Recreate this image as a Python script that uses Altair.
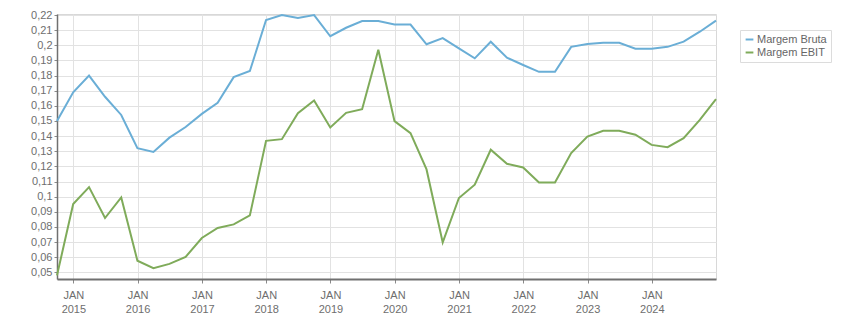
import altair as alt
import pandas as pd

dates = [
    "2014-09-30", "2014-12-31", "2015-03-31", "2015-06-30", "2015-09-30", "2015-12-31",
    "2016-03-31", "2016-06-30", "2016-09-30", "2016-12-31", "2017-03-31", "2017-06-30",
    "2017-09-30", "2017-12-31", "2018-03-31", "2018-06-30", "2018-09-30", "2018-12-31",
    "2019-03-31", "2019-06-30", "2019-09-30", "2019-12-31", "2020-03-31", "2020-06-30",
    "2020-09-30", "2020-12-31", "2021-03-31", "2021-06-30", "2021-09-30", "2021-12-31",
    "2022-03-31", "2022-06-30", "2022-09-30", "2022-12-31", "2023-03-31", "2023-06-30",
    "2023-09-30", "2023-12-31", "2024-03-31", "2024-06-30", "2024-09-30", "2024-12-31",
]

margem_bruta = [
    0.150, 0.169, 0.180, 0.166, 0.154, 0.132, 0.1296, 0.139, 0.146, 0.1547, 0.162, 0.179,
    0.183, 0.2167, 0.220, 0.218, 0.220, 0.206, 0.2116, 0.216, 0.216, 0.2138, 0.2137, 0.2007,
    0.2048, 0.198, 0.1914, 0.2024, 0.1918, 0.187, 0.1825, 0.1825, 0.199, 0.2009, 0.2017, 0.2017,
    0.1978, 0.1978, 0.199, 0.2024, 0.209, 0.2163,
]

margem_ebit = [
    0.048, 0.0951, 0.1063, 0.0859, 0.0995, 0.0577, 0.0527, 0.0556, 0.0602, 0.0727, 0.0793, 0.0817,
    0.0876, 0.1369, 0.138, 0.1551, 0.1635, 0.1457, 0.1554, 0.1578, 0.1971, 0.1499, 0.142, 0.118,
    0.0698, 0.0991, 0.1079, 0.1310, 0.1217, 0.1193, 0.1094, 0.1094, 0.1288, 0.1397, 0.1435, 0.1435,
    0.1409, 0.1342, 0.1327, 0.1387, 0.1507, 0.1644,
]

series_names = ["Margem Bruta", "Margem EBIT"]
series_colors = ["#6aaed6", "#7fab5a"]
y_ticks = [0.05, 0.06, 0.07, 0.08, 0.09, 0.10, 0.11, 0.12, 0.13, 0.14, 0.15, 0.16, 0.17,
           0.18, 0.19, 0.20, 0.21, 0.22]
x_tick_years = [2015, 2016, 2017, 2018, 2019, 2020, 2021, 2022, 2023, 2024]

df = pd.concat([
    pd.DataFrame({"date": dates, "value": margem_bruta, "serie": series_names[0]}),
    pd.DataFrame({"date": dates, "value": margem_ebit, "serie": series_names[1]}),
])

FONT = "Liberation Sans"

chart = alt.Chart(df).mark_line(strokeWidth=2).encode(
    x=alt.X(
        "date:T",
        scale=alt.Scale(type="utc", domain=[
            alt.DateTime(year=2014, month=9, date=30, utc=True),
            alt.DateTime(year=2024, month=12, date=31, utc=True),
        ], nice=False),
        axis=alt.Axis(
            title=None,
            values=[alt.DateTime(year=y, month=1, date=1, utc=True) for y in x_tick_years],
            labelExpr="['JAN', utcFormat(datum.value, '%Y')]",
            labelFont=FONT, labelFontSize=11, labelColor="#6e6e6e",
            labelPadding=6, labelLineHeight=14,
            domainColor="#707070", domainWidth=2,
            tickColor="#8a8a8a", tickSize=4,
            gridColor="#e2e2e2", gridWidth=1,
        ),
    ),
    y=alt.Y(
        "value:Q",
        scale=alt.Scale(domain=[0.0456, 0.2207], nice=False, zero=False),
        axis=alt.Axis(
            title=None,
            values=y_ticks,
            labelExpr="replace(format(datum.value, '.2~f'), '.', ',')",
            labelFont=FONT, labelFontSize=11, labelColor="#6e6e6e",
            labelPadding=2,
            domainColor="#707070", domainWidth=1.5,
            tickColor="#8a8a8a", tickSize=3,
            gridColor="#e2e2e2", gridWidth=1,
        ),
    ),
    color=alt.Color(
        "serie:N",
        scale=alt.Scale(domain=series_names, range=series_colors),
        legend=alt.Legend(
            title=None, orient="none", legendX=683, legendY=16,
            symbolType="stroke", symbolSize=60, symbolStrokeWidth=2,
            labelFont=FONT, labelFontSize=11, labelColor="#666666",
            strokeColor="#dcdcdc", padding=4, rowPadding=1, labelOffset=2,
            fillColor="white",
        ),
    ),
).properties(
    width=659, height=265,
    padding={"left": 57, "top": 14, "right": 135, "bottom": 34},
    autosize=alt.AutoSizeParams(type="none"),
).configure_view(
    stroke="#d8d8d8", strokeWidth=1,
)

chart.save("out.html", embed_options={"renderer": "svg", "actions": False})
